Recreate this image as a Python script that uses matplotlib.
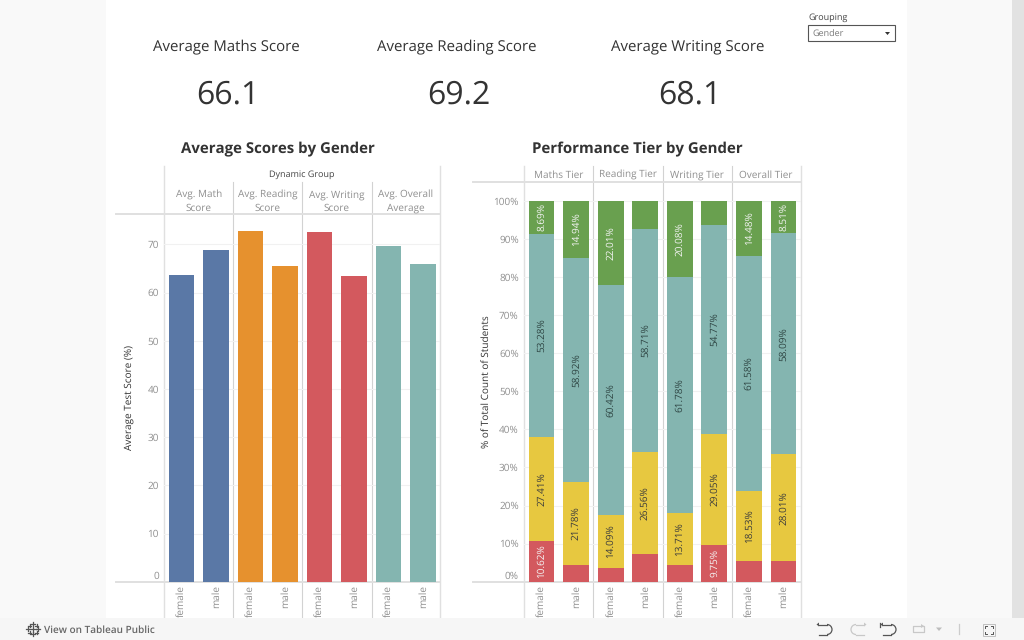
"""Student scores dashboard: KPI strip, average score bars and performance tier stacks."""

import matplotlib
matplotlib.use("Agg")
import matplotlib.pyplot as plt
from matplotlib.patches import Rectangle, Polygon, Arc

plt.rcParams["font.family"] = ["Open Sans", "DejaVu Sans"]
plt.rcParams["text.hinting"] = "no_hinting"
plt.rcParams["text.hinting_factor"] = 1

W, H = 1024, 640

# KPI strip
kpi_titles = ["Average Maths Score", "Average Reading Score", "Average Writing Score"]
kpi_values = ["66.1", "69.2", "68.1"]

# Average scores chart
genders = ["female", "male"]
score_panels = ["Avg. Math\nScore", "Avg. Reading\nScore", "Avg. Writing\nScore", "Avg. Overall\nAverage"]
scores_female = [63.7, 72.7, 72.5, 69.7]
scores_male = [68.9, 65.6, 63.4, 65.9]
score_colors = ["#5a78a6", "#e6912e", "#d3595e", "#84b5b0"]
score_ticks = [0, 10, 20, 30, 40, 50, 60, 70]

# Performance tier chart, one entry per bar: female/male for each of the four tiers
tier_panels = ["Maths Tier", "Reading Tier", "Writing Tier", "Overall Tier"]
tier_low = [10.62, 4.36, 3.48, 7.38, 4.43, 9.75, 5.41, 5.39]
tier_mid = [27.41, 21.78, 14.09, 26.56, 13.71, 29.05, 18.53, 28.01]
tier_good = [53.28, 58.92, 60.42, 58.71, 61.78, 54.77, 61.58, 58.09]
tier_top = [8.69, 14.94, 22.01, 7.35, 20.08, 6.43, 14.48, 8.51]
tier_colors = ["#d3595e", "#e7c840", "#84b5b0", "#69a04f"]
tier_text = ["#f4f4f4", "#3c3c3c", "#2f4644", "#f4f4f4"]
tier_ticks = [0, 10, 20, 30, 40, 50, 60, 70, 80, 90, 100]

BAR_W = 0.374
GRID = "#f1f1f1"
RULE = "#e0e0e0"
DIVIDER = "#d2d2d2"
GREY_TXT = "#8f8f8f"
DARK = "#333333"


def px_axes(fig, x0, y0, x1, y1, **kw):
    # axes placed by pixel box, y measured from the top of the canvas
    return fig.add_axes([x0 / W, 1 - y1 / H, (x1 - x0) / W, (y1 - y0) / H], **kw)


def bar_positions():
    return [p + off for p in range(4) for off in (0.25, 0.75)]


def style_chart(ax, ymax, ticks, ticklabels):
    ax.patch.set_alpha(0)
    for s in ax.spines.values():
        s.set_visible(False)
    ax.set_xlim(0, 4)
    ax.set_ylim(0, ymax)
    ax.set_axisbelow(True)
    ax.yaxis.grid(True, color=GRID, lw=0.8)
    ax.set_yticks(ticks)
    ax.set_yticklabels(ticklabels, fontsize=7.4, color=GREY_TXT)
    ax.tick_params(axis="y", length=0, pad=4)
    ax.set_xticks(bar_positions())
    ax.set_xticklabels(genders * 4, rotation=90, fontsize=6.9, color=GREY_TXT, va="top")
    ax.tick_params(axis="x", length=0, pad=2.6)
    # the zero label sits above the baseline
    ax.get_yticklabels()[0].set_va("bottom")


fig = plt.figure(figsize=(W / 100, H / 100), dpi=100, facecolor="#f9f9f9")

# page: white sheet, scrollbar track, rules and headers
bg = px_axes(fig, 0, 0, W, H, zorder=0)
bg.set_xlim(0, W)
bg.set_ylim(H, 0)
bg.axis("off")
bg.add_patch(Rectangle((106, 0), 801, 618, fc="white", ec="none"))
bg.add_patch(Rectangle((1012, 0), 12, 618, fc="#e2e2e2", ec="none"))

for cx, nx, ty, t, v in zip([226, 457, 687.5], [228, 459, 690], [51, 51, 50], kpi_titles, kpi_values):
    bg.text(cx, ty, t, ha="center", va="baseline", fontsize=10.6, color=DARK)
    bg.text(nx, 104, v, ha="center", va="baseline", fontsize=22.8, color=DARK)

bg.text(277.5, 153.5, "Average Scores by Gender", ha="center", va="baseline", fontsize=10.9, weight="bold", color=DARK)
bg.text(637, 153.5, "Performance Tier by Gender", ha="center", va="baseline", fontsize=10.9, weight="bold", color=DARK)

# grouping control
bg.text(808, 20, "Grouping", ha="left", va="baseline", fontsize=6.6, color="#444444")
bg.add_patch(Rectangle((808, 25), 87, 15.5, fc="white", ec="#555555", lw=0.8))
bg.text(812, 36, "Gender", ha="left", va="baseline", fontsize=6.2, color="#777777")
bg.add_patch(Polygon([(885, 32), (890, 32), (887.5, 35)], fc="#333333", ec="none"))

# left chart frame
LX0, LX1, RX0, RX1 = 164.3, 440.3, 524.3, 800.7
BASE = 581.7
for x in [LX0, LX1]:
    bg.plot([x, x], [166, 618], color=RULE, lw=1.0)
for x in [232.7, 302.3, 371.7]:
    bg.plot([x, x], [182, 618], color=DIVIDER, lw=0.8)
bg.plot([116, LX1], [214, 214], color=RULE, lw=1.4)
bg.plot([116, LX1], [BASE, BASE], color=RULE, lw=1.4)
bg.text(302, 177, "Dynamic Group", ha="center", va="baseline", fontsize=6.6, weight="medium", color="#444444")
for i, t in enumerate(score_panels):
    l1, l2 = t.split("\n")
    cx = LX0 + (LX1 - LX0) * (i + 0.5) / 4
    bg.text(cx, 197.7, l1, ha="center", va="baseline", fontsize=6.9, color=GREY_TXT)
    bg.text(cx, 210.7, l2, ha="center", va="baseline", fontsize=6.9, color=GREY_TXT)
bg.text(129, 397.5, "Average Test Score (%)", rotation=90, ha="center", va="center", fontsize=7.2, weight="medium", color=DARK)

# right chart frame
for x in [RX0, RX1]:
    bg.plot([x, x], [166, 618], color=RULE, lw=1.0)
for x in [593.3, 663.3, 732.3]:
    bg.plot([x, x], [166, 618], color=DIVIDER, lw=0.8)
bg.plot([473.3, RX1], [181.7, 181.7], color=RULE, lw=1.4)
bg.plot([473.3, RX1], [BASE, BASE], color=RULE, lw=1.4)
for i, (t, ty) in enumerate(zip(tier_panels, [177.5, 178, 177.2, 177.5])):
    cx = RX0 + (RX1 - RX0) * (i + 0.5) / 4
    bg.text(cx, ty, t, ha="center", va="baseline", fontsize=6.9, color=GREY_TXT)
bg.text(486.5, 381.5, "% of Total Count of Students", rotation=90, ha="center", va="center", fontsize=6.9, weight="medium", color=DARK)

# average scores bars
ax1 = px_axes(fig, LX0, 214, LX1, BASE, zorder=1)
style_chart(ax1, 76.3, score_ticks, [str(t) for t in score_ticks])
xs = bar_positions()
for i, c in enumerate(score_colors):
    ax1.bar(xs[2 * i], scores_female[i], BAR_W, color=c, edgecolor="none")
    ax1.bar(xs[2 * i + 1], scores_male[i], BAR_W, color=c, edgecolor="none")

# tier stacks; segments under 8% carry no label
ax2 = px_axes(fig, RX0, 181.7, RX1, BASE, zorder=1)
style_chart(ax2, 105, tier_ticks, [f"{t}%" for t in tier_ticks])
bottom = [0] * 8
for vals, c, tc in zip([tier_low, tier_mid, tier_good, tier_top], tier_colors, tier_text):
    ax2.bar(xs, vals, BAR_W, bottom=bottom, color=c, edgecolor="none")
    for x, b, v in zip(xs, bottom, vals):
        if v >= 8:
            ax2.text(x, b + v / 2, f"{v:.2f}%", rotation=90, ha="center", va="center", fontsize=7.4, color=tc)
    bottom = [b + v for b, v in zip(bottom, vals)]

# viewer toolbar covers whatever runs past the sheet
top = px_axes(fig, 0, 0, W, H, zorder=3)
top.set_xlim(0, W)
top.set_ylim(H, 0)
top.axis("off")
top.add_patch(Rectangle((0, 618), W, 22, fc="#f6f6f6", ec="none"))
top.text(44, 632.5, "View on Tableau Public", ha="left", va="baseline", fontsize=7.1, weight="semibold", color="#666666")

# logo: small crosses in a ring
for lx, ly, s in [(33, 629, 2.5), (33, 624, 1.8), (33, 634, 1.8), (28, 629, 1.8), (38, 629, 1.8),
                  (29.5, 625.5, 1.2), (36.5, 625.5, 1.2), (29.5, 632.5, 1.2), (36.5, 632.5, 1.2)]:
    top.plot([lx - s, lx + s], [ly, ly], color="#555555", lw=0.9)
    top.plot([lx, lx], [ly - s, ly + s], color="#555555", lw=0.9)


def undo_icon(x, flip, color, bar=False):
    # hooked arrow; flip mirrors it for redo
    d = -1 if flip else 1
    top.plot([x - 6 * d, x + 2 * d], [624.5, 624.5], color=color, lw=0.9)
    top.plot([x + 2 * d, x - 6 * d], [634.5, 634.5], color=color, lw=0.9)
    cx = x + 2 * d
    top.add_patch(Arc((cx, 629.5), 10, 10, theta1=-90 if d > 0 else 90, theta2=90 if d > 0 else 270, color=color, lw=0.9))
    top.add_patch(Polygon([(x - 6 * d, 622.5), (x - 6 * d, 626.5), (x - 8.5 * d, 624.5)], fc=color, ec="none"))
    if bar:
        top.plot([x - 9 * d, x - 9 * d], [622.5, 626.5], color=color, lw=0.9)


undo_icon(825, False, "#555555")
undo_icon(858, True, "#c8c8c8")
undo_icon(889, False, "#555555", bar=True)
top.add_patch(Rectangle((913, 626), 11, 6, fc="none", ec="#c8c8c8", lw=0.9, joinstyle="round"))
top.add_patch(Polygon([(921, 624), (921, 628), (924, 626)], fc="#c8c8c8", ec="none"))
top.add_patch(Polygon([(936, 627.5), (942, 627.5), (939, 631)], fc="#bdbdbd", ec="none"))
top.plot([959, 959], [624, 634], color="#cccccc", lw=0.9)
top.add_patch(Rectangle((983, 623.5), 12, 12, fc="none", ec="#c0c0c0", lw=0.7))
for cx, cy, dx, dy in [(985, 625.5, 1, 1), (993, 625.5, -1, 1), (985, 633.5, 1, -1), (993, 633.5, -1, -1)]:
    top.plot([cx + 2 * dx, cx, cx], [cy, cy, cy + 2 * dy], color="#555555", lw=0.7)

fig.savefig("out.png", dpi=100, facecolor=fig.get_facecolor())
